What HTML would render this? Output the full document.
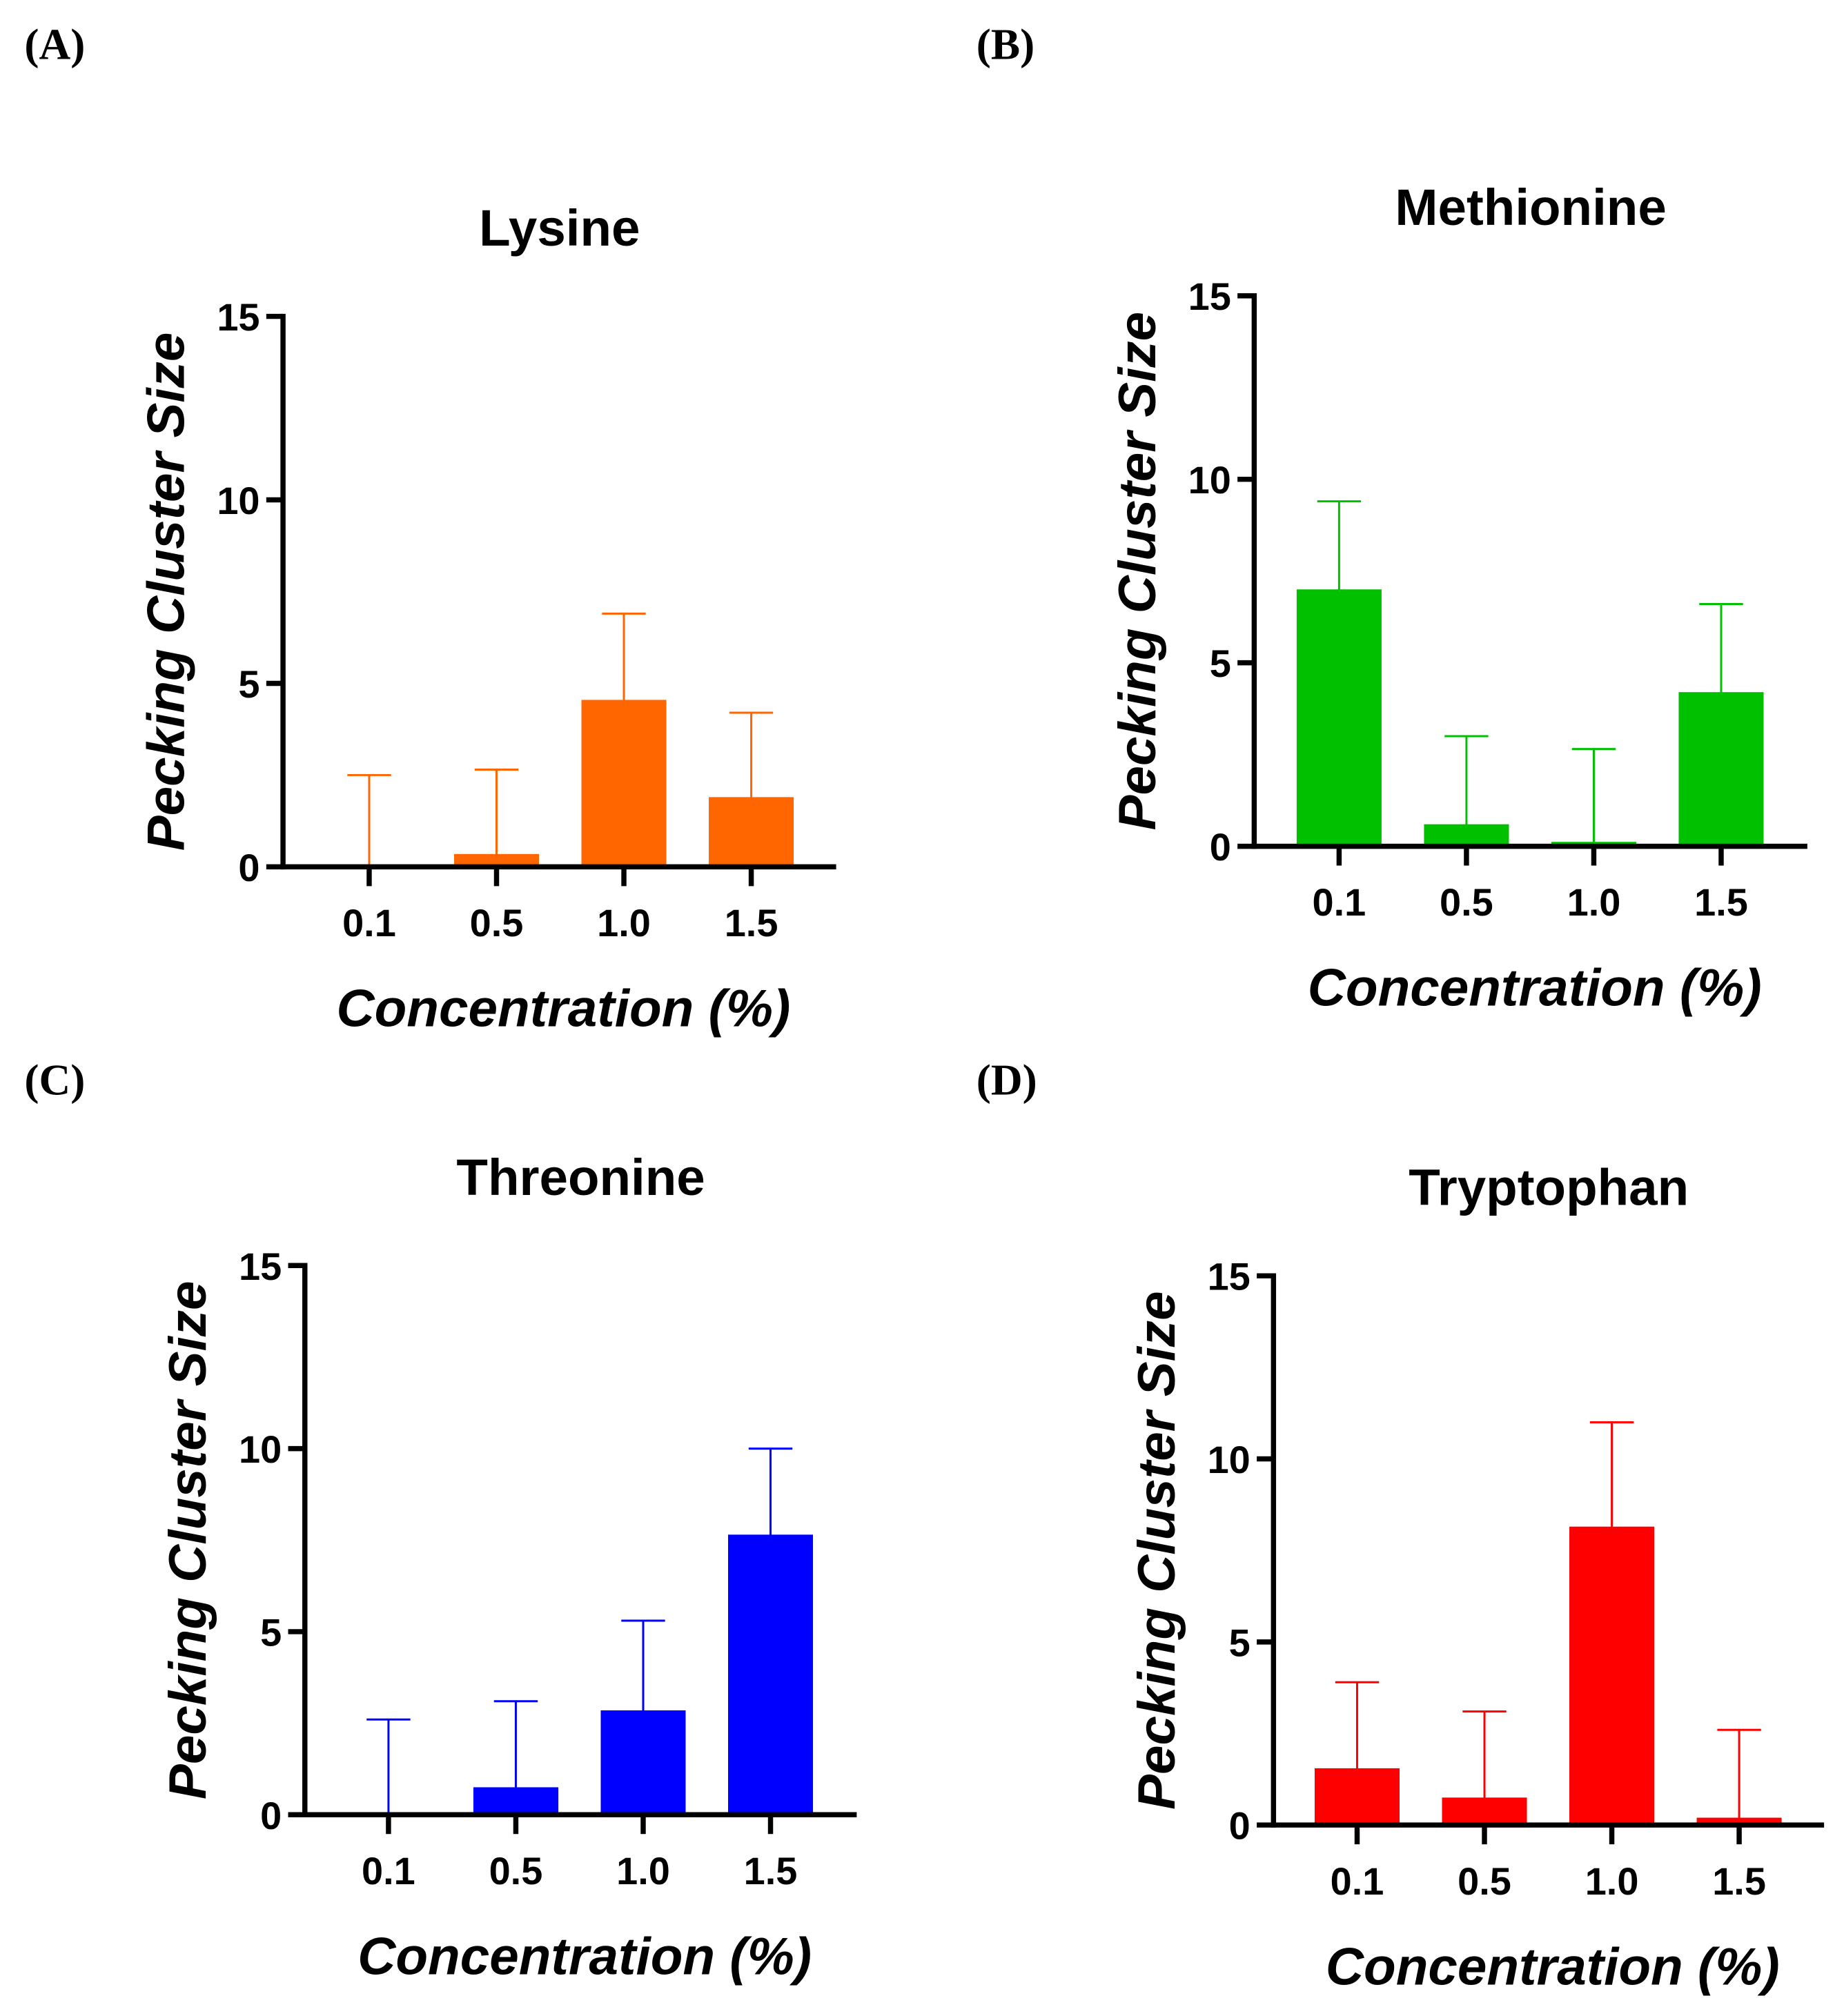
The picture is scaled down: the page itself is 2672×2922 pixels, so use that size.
<!DOCTYPE html>
<html><head><meta charset="utf-8">
<style>
html,body{margin:0;padding:0;background:#fff;}
svg{display:block;}
text{font-family:"Liberation Sans",Arial,sans-serif;fill:#000;}
.pl{font-family:"Liberation Serif",serif;font-weight:bold;font-size:34px;}
.tt{font-weight:bold;font-size:40px;}
.tk{font-weight:bold;font-size:30px;}
.ax{font-weight:bold;font-style:italic;font-size:41px;}
</style></head>
<body>
<svg id="fig" width="2672" height="2922" viewBox="0 0 1433.5 1567.5" preserveAspectRatio="none" xmlns="http://www.w3.org/2000/svg"></svg>
<script>
const categories = ["0.1","0.5","1.0","1.5"];
const yTicks = [0,5,10,15];
const lysineMeans = [0, 0.35, 4.55, 1.9];
const lysineErr = [2.5, 2.3, 2.35, 2.3];
const methionineMeans = [7.0, 0.6, 0.12, 4.2];
const methionineErr = [2.4, 2.4, 2.53, 2.4];
const threonineMeans = [0, 0.75, 2.85, 7.65];
const threonineErr = [2.6, 2.35, 2.45, 2.35];
const tryptophanMeans = [1.55, 0.75, 8.15, 0.2];
const tryptophanErr = [2.35, 2.35, 2.85, 2.4];

const panels = [
  {key:"lysine", label:"(A)", lx:19, ly:46, title:"Lysine", color:"#FF6600", means:lysineMeans, err:lysineErr, ax:220, y0:674, y15:246, xend:650, c0:287, step:99},
  {key:"methionine", label:"(B)", lx:759, ly:46, title:"Methionine", color:"#00C000", means:methionineMeans, err:methionineErr, ax:975, y0:658, y15:230, xend:1405, c0:1041, step:99},
  {key:"threonine", label:"(C)", lx:19, ly:851, title:"Threonine", color:"#0000FF", means:threonineMeans, err:threonineErr, ax:237, y0:1411, y15:984, xend:666, c0:302, step:99},
  {key:"tryptophan", label:"(D)", lx:759, ly:851, title:"Tryptophan", color:"#FF0000", means:tryptophanMeans, err:tryptophanErr, ax:990, y0:1419, y15:992, xend:1418, c0:1055, step:99}
];
const NS="http://www.w3.org/2000/svg";
const svg=document.getElementById('fig');
function mk(tag,attrs,parent,txt){const e=document.createElementNS(NS,tag);for(const k in attrs)e.setAttribute(k,attrs[k]);if(txt!==undefined)e.textContent=txt;(parent||svg).appendChild(e);return e;}

panels.forEach(p=>{
  const g=mk('g',{});
  
  
  const yS=v=>p.y0-(v/15)*(p.y0-p.y15);
  const xS=i=>p.c0+i*p.step;
  const lab=mk('text',{x:p.lx,y:p.ly,class:'pl'},g,p.label);
  
  
  const cx=(p.ax+p.xend)/2;
  const t=mk('text',{x:cx,y:yS(15)-55,class:'tt','text-anchor':'middle'},g,p.title);
  
  
  p.means.forEach((m,i)=>{
    const x=xS(i), bw=66, top=yS(m+p.err[i]);
    const el=mk('line',{x1:x,x2:x,y1:yS(0),y2:top,stroke:p.color,'stroke-width':1.6},g);
    
    
    const cap=mk('line',{x1:x-17,x2:x+17,y1:top,y2:top,stroke:p.color,'stroke-width':1.6},g);
    
    
    const r=mk('rect',{x:x-bw/2,y:yS(m),width:bw,height:Math.max(0,yS(0)-yS(m)),fill:p.color},g);
    
    
  });
  const ya=mk('line',{x1:p.ax,x2:p.ax,y1:yS(15)-2,y2:yS(0)+2,stroke:'#000','stroke-width':4},g);
  
  
  const xa=mk('line',{x1:p.ax-2,x2:p.xend,y1:yS(0),y2:yS(0),stroke:'#000','stroke-width':4},g);
  
  
  yTicks.forEach(v=>{
    mk('line',{x1:p.ax-13,x2:p.ax,y1:yS(v),y2:yS(v),stroke:'#000','stroke-width':4},g);
    const tl=mk('text',{x:p.ax-18,y:yS(v)+11,class:'tk','text-anchor':'end'},g,String(v));
    
    
  });
  categories.forEach((c,i)=>{
    mk('line',{x1:xS(i),x2:xS(i),y1:yS(0),y2:yS(0)+15,stroke:'#000','stroke-width':4},g);
    const tl=mk('text',{x:xS(i),y:yS(0)+54,class:'tk','text-anchor':'middle'},g,c);
    
    
  });
  const xt=mk('text',{x:cx+3,y:yS(0)+124,class:'ax','text-anchor':'middle'},g,'Concentration (%)');
  
  
  const ym=(yS(0)+yS(15))/2, yx=p.ax-77;
  const yt=mk('text',{x:yx,y:ym,class:'ax','text-anchor':'middle',transform:'rotate(-90 '+yx+' '+ym+')'},g,'Pecking Cluster Size');
  
  
});
</script>
</body></html>
